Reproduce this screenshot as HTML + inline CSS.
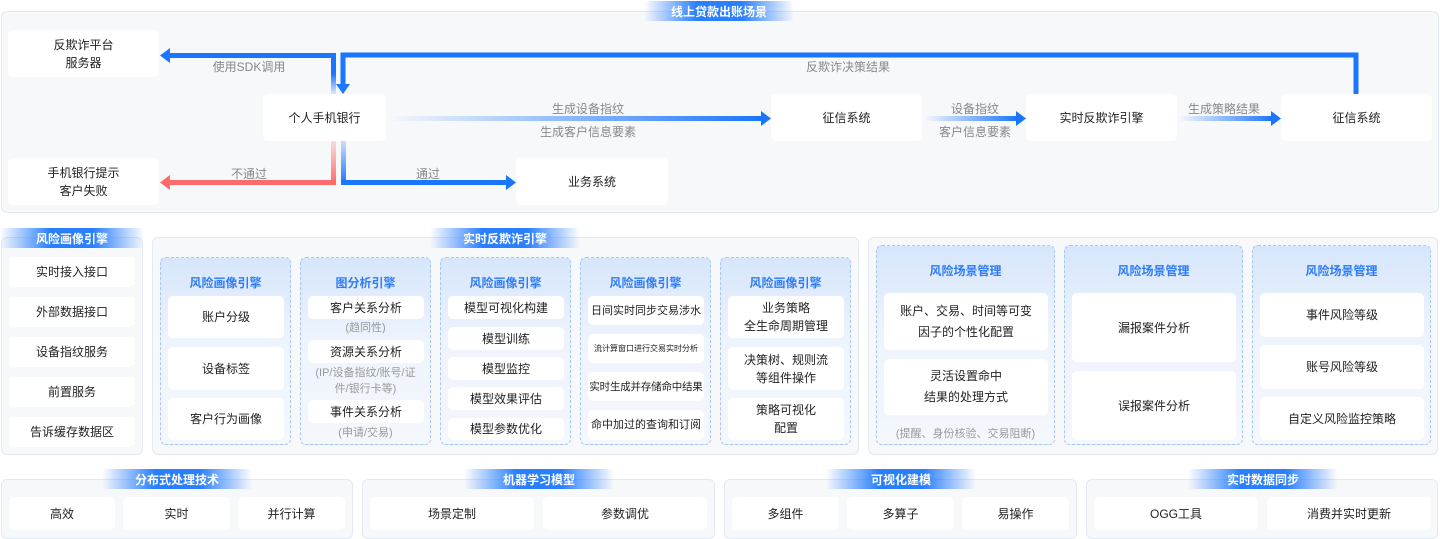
<!DOCTYPE html>
<html><head><meta charset="utf-8"><style>
*{box-sizing:border-box;margin:0;padding:0}
body{width:1440px;height:539px;background:#fff;position:relative;overflow:hidden;font-family:"Liberation Sans","Noto Sans CJK SC",sans-serif;font-size:12px;color:#222}
.a{position:absolute}
.panel{position:absolute;background:#f7f8fa;border:1px solid #e3e9f3;border-radius:6px}
.box{position:absolute;background:#fff;border-radius:5px;display:flex;align-items:center;justify-content:center;text-align:center;line-height:18px;color:#222;font-size:12px}
.ttl{position:absolute;height:20px;width:150px;display:flex;align-items:center;justify-content:center;color:#fff;font-weight:bold;font-size:12px;background:linear-gradient(90deg,rgba(26,117,255,0),#2a7fff 35%,#2a7fff 65%,rgba(26,117,255,0))}
.col{position:absolute;border:1px dashed #a9c6f3;border-radius:6px;background:linear-gradient(180deg,#d6e6fc 0%,#eef4fd 45%,#f4f7fc 100%)}
.hd{position:absolute;left:0;right:0;text-align:center;color:#2f7cf6;font-weight:bold;font-size:12px}
.lb{position:absolute;color:#888;font-size:12px;white-space:nowrap;transform:translateX(-50%)}
.gt{position:absolute;left:0;right:0;text-align:center;color:#999;font-size:11px;line-height:16px}
</style></head><body>

<div class="panel" style="left:1px;top:11px;width:1438px;height:202px"></div>
<div class="ttl" style="left:644px;top:1px">线上贷款出账场景</div>

<svg class="a" style="left:0;top:0" width="1440" height="215">
<defs>
<linearGradient id="g1" x1="0" x2="1"><stop offset="0" stop-color="#1a75ff" stop-opacity="0"/><stop offset="1" stop-color="#1a75ff"/></linearGradient>
<linearGradient id="gv" x1="0" y1="1" x2="0" y2="0"><stop offset="0" stop-color="#1a75ff" stop-opacity="0.1"/><stop offset="0.5" stop-color="#1a75ff"/></linearGradient>
<linearGradient id="gr" x1="0" y1="0" x2="0" y2="1"><stop offset="0" stop-color="#ff6b6b" stop-opacity="0.2"/><stop offset="1" stop-color="#ff6b6b"/></linearGradient>
<linearGradient id="gb" x1="0" y1="0" x2="0" y2="1"><stop offset="0" stop-color="#1a75ff" stop-opacity="0.2"/><stop offset="1" stop-color="#1a75ff"/></linearGradient>
</defs>
<rect x="331" y="53" width="5" height="41" fill="url(#gv)"/>
<rect x="168" y="53" width="168" height="5" fill="#1a75ff"/>
<polygon points="160,55.5 170,48 170,63" fill="#1a75ff"/>
<polyline points="1356,94 1356,55 343,55 343,86" fill="none" stroke="#1a75ff" stroke-width="5"/>
<polygon points="343,94 336,84 350,84" fill="#1a75ff"/>
<rect x="388" y="116" width="375" height="5" fill="url(#g1)"/>
<polygon points="771,118.5 761,111 761,126" fill="#1a75ff"/>
<rect x="924" y="116" width="94" height="5" fill="url(#g1)"/>
<polygon points="1026,118.5 1016,111 1016,126" fill="#1a75ff"/>
<rect x="1179" y="116" width="94" height="5" fill="url(#g1)"/>
<polygon points="1281,118.5 1271,111 1271,126" fill="#1a75ff"/>
<rect x="331" y="141" width="5" height="43" fill="url(#gr)"/>
<rect x="168" y="180" width="168" height="5" fill="#ff6b6b"/>
<polygon points="160,182.5 170,175 170,190" fill="#ff6b6b"/>
<rect x="341" y="141" width="5" height="43" fill="url(#gb)"/>
<rect x="341" y="180" width="167" height="5" fill="#1a75ff"/>
<polygon points="516,182.5 506,175 506,190" fill="#1a75ff"/>
</svg>

<div class="box" style="left:8px;top:30px;width:151px;height:47px">反欺诈平台<br>服务器</div>
<div class="box" style="left:263px;top:94px;width:123px;height:47px">个人手机银行</div>
<div class="box" style="left:8px;top:158px;width:151px;height:47px">手机银行提示<br>客户失败</div>
<div class="box" style="left:516px;top:158px;width:152px;height:47px">业务系统</div>
<div class="box" style="left:771px;top:94px;width:151px;height:47px">征信系统</div>
<div class="box" style="left:1026px;top:94px;width:151px;height:47px">实时反欺诈引擎</div>
<div class="box" style="left:1281px;top:94px;width:151px;height:47px">征信系统</div>

<div class="lb" style="left:249px;top:58px">使用SDK调用</div>
<div class="lb" style="left:848px;top:58px">反欺诈决策结果</div>
<div class="lb" style="left:588px;top:100px">生成设备指纹</div>
<div class="lb" style="left:588px;top:123px">生成客户信息要素</div>
<div class="lb" style="left:975px;top:100px">设备指纹</div>
<div class="lb" style="left:975px;top:123px">客户信息要素</div>
<div class="lb" style="left:1224px;top:100px">生成策略结果</div>
<div class="lb" style="left:249px;top:165px">不通过</div>
<div class="lb" style="left:428px;top:165px">通过</div>

<div class="panel" style="left:1px;top:237px;width:142px;height:218px"></div>
<div class="ttl" style="left:0;top:228px;width:144px">风险画像引擎</div>
<div class="box" style="left:9px;top:257px;width:126px;height:30px">实时接入接口</div>
<div class="box" style="left:9px;top:297px;width:126px;height:30px">外部数据接口</div>
<div class="box" style="left:9px;top:337px;width:126px;height:30px">设备指纹服务</div>
<div class="box" style="left:9px;top:377px;width:126px;height:30px">前置服务</div>
<div class="box" style="left:9px;top:417px;width:126px;height:30px">告诉缓存数据区</div>

<div class="panel" style="left:152px;top:237px;width:707px;height:218px"></div>
<div class="ttl" style="left:430px;top:228px">实时反欺诈引擎</div>

<div class="col" style="left:160px;top:257px;width:131px;height:188px"><div class="hd" style="top:16px">风险画像引擎</div></div>
<div class="box" style="left:168px;top:296px;width:116px;height:42px">账户分级</div>
<div class="box" style="left:168px;top:347px;width:116px;height:43px">设备标签</div>
<div class="box" style="left:168px;top:398px;width:116px;height:42px">客户行为画像</div>

<div class="col" style="left:300px;top:257px;width:131px;height:188px"><div class="hd" style="top:16px">图分析引擎</div>
<div class="gt" style="top:62px">(趋同性)</div>
<div class="gt" style="top:107px">(IP/设备指纹/账号/证<br>件/银行卡等)</div>
<div class="gt" style="top:167px">(申请/交易)</div></div>
<div class="box" style="left:308px;top:296px;width:116px;height:23px">客户关系分析</div>
<div class="box" style="left:308px;top:340px;width:116px;height:23px">资源关系分析</div>
<div class="box" style="left:308px;top:400px;width:116px;height:23px">事件关系分析</div>

<div class="col" style="left:440px;top:257px;width:131px;height:188px"><div class="hd" style="top:16px">风险画像引擎</div></div>
<div class="box" style="left:448px;top:296px;width:116px;height:23px">模型可视化构建</div>
<div class="box" style="left:448px;top:327px;width:116px;height:23px">模型训练</div>
<div class="box" style="left:448px;top:357px;width:116px;height:23px">模型监控</div>
<div class="box" style="left:448px;top:387px;width:116px;height:23px">模型效果评估</div>
<div class="box" style="left:448px;top:418px;width:116px;height:22px">模型参数优化</div>

<div class="col" style="left:580px;top:257px;width:131px;height:188px"><div class="hd" style="top:16px">风险画像引擎</div></div>
<div class="box" style="left:588px;top:296px;width:116px;height:29px;font-size:11px;white-space:nowrap">日间实时同步交易涉水</div>
<div class="box" style="left:588px;top:334px;width:116px;height:29px;font-size:8px;white-space:nowrap">流计算窗口进行交易实时分析</div>
<div class="box" style="left:588px;top:372px;width:116px;height:29px;font-size:10.5px;white-space:nowrap;letter-spacing:-0.2px">实时生成并存储命中结果</div>
<div class="box" style="left:588px;top:410px;width:116px;height:30px;font-size:11px;white-space:nowrap">命中加过的查询和订阅</div>

<div class="col" style="left:720px;top:257px;width:131px;height:188px"><div class="hd" style="top:16px">风险画像引擎</div></div>
<div class="box" style="left:728px;top:296px;width:116px;height:42px">业务策略<br>全生命周期管理</div>
<div class="box" style="left:728px;top:347px;width:116px;height:43px">决策树、规则流<br>等组件操作</div>
<div class="box" style="left:728px;top:398px;width:116px;height:42px">策略可视化<br>配置</div>

<div class="panel" style="left:868px;top:237px;width:570px;height:218px"></div>
<div class="col" style="left:876px;top:245px;width:179px;height:200px"><div class="hd" style="top:16px">风险场景管理</div>
<div class="gt" style="top:180px">(提醒、身份核验、交易阻断)</div></div>
<div class="box" style="left:884px;top:293px;width:164px;height:57px;line-height:21px">账户、交易、时间等可变<br>因子的个性化配置</div>
<div class="box" style="left:884px;top:359px;width:164px;height:56px;line-height:21px">灵活设置命中<br>结果的处理方式</div>
<div class="col" style="left:1064px;top:245px;width:179px;height:200px"><div class="hd" style="top:16px">风险场景管理</div></div>
<div class="box" style="left:1072px;top:293px;width:164px;height:69px">漏报案件分析</div>
<div class="box" style="left:1072px;top:371px;width:164px;height:69px">误报案件分析</div>
<div class="col" style="left:1252px;top:245px;width:179px;height:200px"><div class="hd" style="top:16px">风险场景管理</div></div>
<div class="box" style="left:1260px;top:293px;width:164px;height:44px">事件风险等级</div>
<div class="box" style="left:1260px;top:345px;width:164px;height:44px">账号风险等级</div>
<div class="box" style="left:1260px;top:397px;width:164px;height:43px">自定义风险监控策略</div>

<div class="panel" style="left:1px;top:479px;width:352px;height:60px"></div>
<div class="ttl" style="left:102px;top:469px">分布式处理技术</div>
<div class="box" style="left:9px;top:497px;width:106px;height:33px">高效</div>
<div class="box" style="left:123px;top:497px;width:107px;height:33px">实时</div>
<div class="box" style="left:238px;top:497px;width:107px;height:33px">并行计算</div>

<div class="panel" style="left:362px;top:479px;width:353px;height:60px"></div>
<div class="ttl" style="left:464px;top:469px">机器学习模型</div>
<div class="box" style="left:370px;top:497px;width:164px;height:33px">场景定制</div>
<div class="box" style="left:543px;top:497px;width:164px;height:33px">参数调优</div>

<div class="panel" style="left:724px;top:479px;width:353px;height:60px"></div>
<div class="ttl" style="left:826px;top:469px">可视化建模</div>
<div class="box" style="left:732px;top:497px;width:107px;height:33px">多组件</div>
<div class="box" style="left:847px;top:497px;width:107px;height:33px">多算子</div>
<div class="box" style="left:962px;top:497px;width:107px;height:33px">易操作</div>

<div class="panel" style="left:1086px;top:479px;width:352px;height:60px"></div>
<div class="ttl" style="left:1188px;top:469px">实时数据同步</div>
<div class="box" style="left:1094px;top:497px;width:164px;height:33px">OGG工具</div>
<div class="box" style="left:1267px;top:497px;width:164px;height:33px">消费并实时更新</div>

</body></html>
